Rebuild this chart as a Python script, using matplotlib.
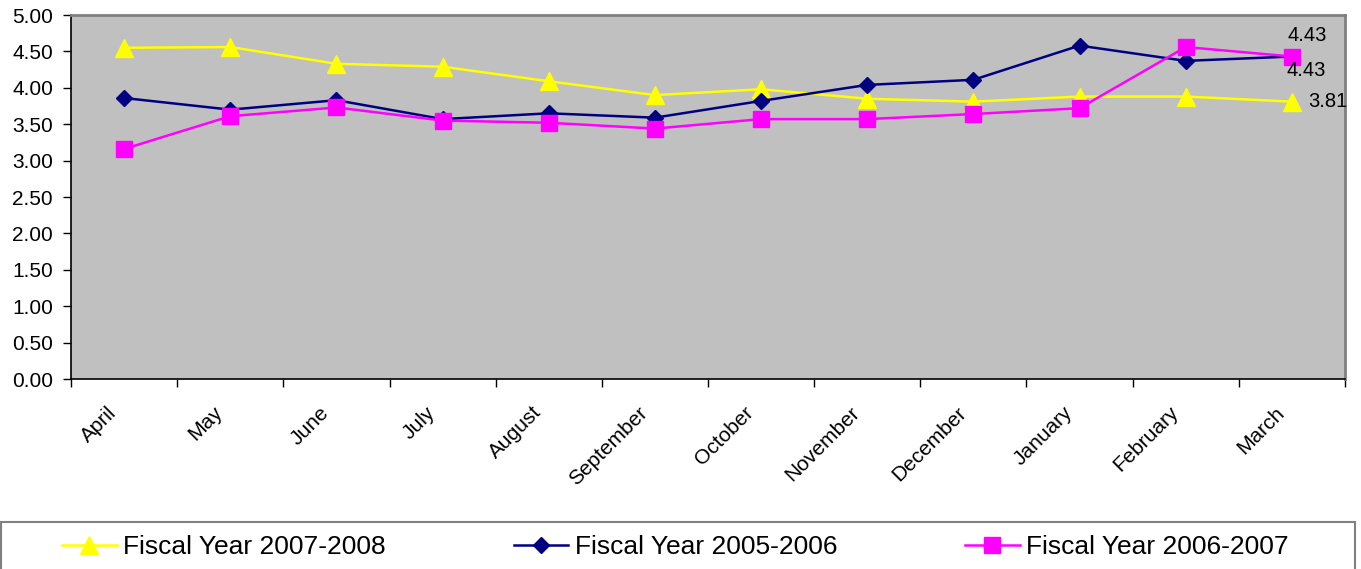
import matplotlib.pyplot as plt
from matplotlib.patches import Rectangle
from matplotlib.ticker import FixedLocator, NullFormatter
from matplotlib.transforms import ScaledTranslation

plt.rcParams['font.family'] = ['Liberation Sans', 'DejaVu Sans']

months = ["April", "May", "June", "July", "August", "September", "October",
          "November", "December", "January", "February", "March"]

fy_2007_2008 = [4.55, 4.56, 4.33, 4.29, 4.09, 3.90, 3.98, 3.85, 3.81, 3.88, 3.88, 3.81]
fy_2005_2006 = [3.86, 3.70, 3.83, 3.57, 3.65, 3.59, 3.82, 4.04, 4.11, 4.58, 4.37, 4.43]
fy_2006_2007 = [3.16, 3.61, 3.73, 3.55, 3.52, 3.44, 3.57, 3.57, 3.64, 3.72, 4.56, 4.43]

yticks = [0, 0.5, 1.0, 1.5, 2.0, 2.5, 3.0, 3.5, 4.0, 4.5, 5.0]

fig = plt.figure(figsize=(13.61, 5.69), dpi=100)
ax = fig.add_axes([0.0522, 0.3339, 0.9360, 0.6397])
ax.set_facecolor("#C0C0C0")

x = list(range(len(months)))
ax.plot(x, fy_2007_2008, color="#FFFF00", lw=1.8, marker="^", ms=12.5,
        label="Fiscal Year 2007-2008")
ax.plot(x, fy_2005_2006, color="#000080", lw=1.8, marker="D", ms=8.5,
        label="Fiscal Year 2005-2006")
ax.plot(x, fy_2006_2007, color="#FF00FF", lw=1.8, marker="s", ms=11,
        label="Fiscal Year 2006-2007")

# value labels on the last month
last = len(months) - 1
ax.annotate(f"{fy_2006_2007[last]:.2f}", (last, fy_2006_2007[last]),
            xytext=(11, 15), textcoords="offset points", ha="center", va="center",
            fontsize=14.5)
ax.annotate(f"{fy_2005_2006[last]:.2f}", (last, fy_2005_2006[last]),
            xytext=(10, -10), textcoords="offset points", ha="center", va="center",
            fontsize=14.5)
ax.annotate(f"{fy_2007_2008[last]:.2f}", (last, fy_2007_2008[last]),
            xytext=(12, 0), textcoords="offset points", ha="left", va="center",
            fontsize=14.5)

ax.set_xlim(-0.5, len(months) - 0.5)
ax.set_ylim(0, 5)
ax.set_yticks(yticks)
ax.set_yticklabels([f"{v:.2f}" for v in yticks])

# tick marks between categories, labels centred on them
ax.xaxis.set_major_locator(FixedLocator([i - 0.5 for i in range(len(months) + 1)]))
ax.xaxis.set_major_formatter(NullFormatter())
ax.xaxis.set_minor_locator(FixedLocator(x))
ax.set_xticklabels(months, minor=True, rotation=45, ha="right", va="top",
                   rotation_mode="anchor", fontsize=15)
ax.tick_params(axis="x", which="minor", length=0, pad=10)
ax.tick_params(axis="x", which="major", length=6, width=1, color="black")
ax.tick_params(axis="y", length=6, width=1, labelsize=15, pad=7)

shift = ScaledTranslation(-0.17, -0.10, fig.dpi_scale_trans)
for lab in ax.xaxis.get_minorticklabels():
    lab.set_transform(lab.get_transform() + shift)

for side in ("top", "right"):
    ax.spines[side].set_color("#808080")
    ax.spines[side].set_linewidth(2)
for side in ("left", "bottom"):
    ax.spines[side].set_color("black")
    ax.spines[side].set_linewidth(1.2)

# legend strip along the bottom
fig.patches.append(Rectangle((0.0004, -0.05), 0.9952, 0.05 + 47 / 569,
                             transform=fig.transFigure, fill=False,
                             edgecolor="#808080", linewidth=1.5))
fig.legend(loc="center left", bbox_to_anchor=(62 / 1361, 22 / 569), ncol=3,
           fontsize=19, frameon=False, handlelength=2.08, handletextpad=0.23,
           columnspacing=4.85, borderpad=0, borderaxespad=0)

fig.savefig("out.png", dpi=100)
